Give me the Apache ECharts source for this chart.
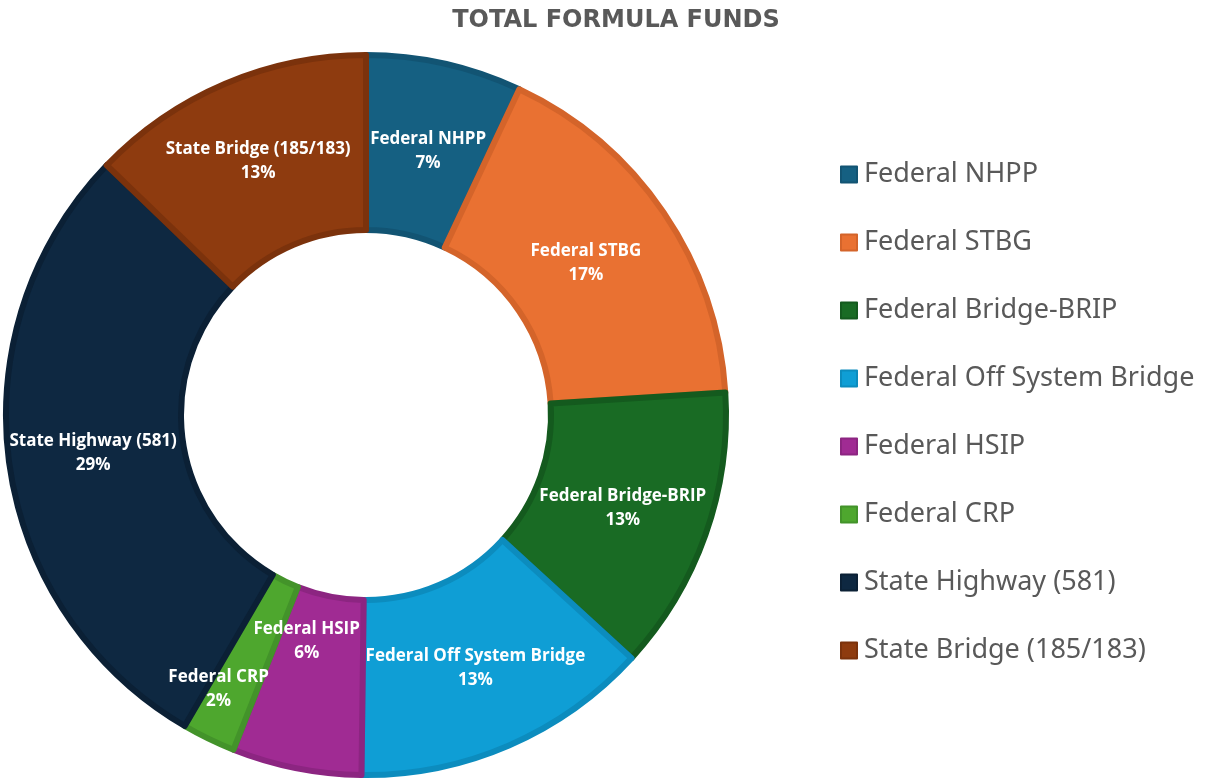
<!DOCTYPE html>
<html>
<head>
<meta charset="utf-8">
<title>Total Formula Funds</title>
<script src="https://cdn.jsdelivr.net/npm/echarts@6/dist/echarts.min.js"></script>
<style>
  html, body { margin: 0; padding: 0; background: #fff; }
  #chart { width: 1205px; height: 784px; }
</style>
</head>
<body>
<div id="chart"></div>
<script>
const categories = [
  "Federal NHPP",
  "Federal STBG",
  "Federal Bridge-BRIP",
  "Federal Off System Bridge",
  "Federal HSIP",
  "Federal CRP",
  "State Highway (581)",
  "State Bridge (185/183)"
];
// share of total formula funds (percent)
const shares = [7.0, 17.0, 12.8, 13.4, 5.8, 2.4, 28.8, 12.8];

const fillColors = ["#156082", "#E97132", "#196B24", "#0F9ED5", "#A02B93", "#4EA72E", "#0E2841", "#8E3B0F"];
const edgeColors = ["#125473", "#D4642A", "#145A1E", "#0C8CBE", "#8C2581", "#43932A", "#0B2035", "#7B320C"];

// Excel nudged a few labels off the ring middle
const labelNudge = { 0: [2, 5], 1: [-8, 3], 2: [-3, 1], 4: [-6, -44], 5: [-27, 26] };

const chart = echarts.init(document.getElementById("chart"));

chart.setOption({
  animation: false,
  title: {
    text: "TOTAL FORMULA FUNDS",
    left: 611,
    top: 4,
    textAlign: "center",
    textStyle: {
      fontFamily: "DejaVu Sans",
      fontWeight: "bold",
      fontSize: 24,
      color: "#595959"
    }
  },
  legend: {
    orient: "vertical",
    left: 835,
    top: 156,
    itemWidth: 16,
    itemHeight: 16,
    itemGap: 41,
    icon: "rect",
    data: categories,
    textStyle: {
      fontFamily: "Noto Sans",
      fontSize: 27,
      color: "#595959",
      padding: [0, 0, 0, 2]
    }
  },
  series: [
    {
      name: "Total Formula Funds",
      type: "pie",
      center: [366, 415],
      radius: [185, 360],
      startAngle: 90,
      clockwise: true,
      percentPrecision: 0,
      label: {
        show: true,
        position: "inside",
        formatter: "{b}\n{d}%",
        fontFamily: "Open Sans",
        fontWeight: "bold",
        fontSize: 17,
        lineHeight: 24,
        color: "#fff"
      },
      labelLine: { show: false },
      labelLayout: function (params) {
        const n = labelNudge[params.dataIndex];
        return n ? { dx: n[0], dy: n[1] } : {};
      },
      data: categories.map((name, i) => ({
        name: name,
        value: shares[i],
        itemStyle: {
          color: fillColors[i],
          borderColor: edgeColors[i],
          borderWidth: 6
        }
      }))
    }
  ]
});
</script>
</body>
</html>
